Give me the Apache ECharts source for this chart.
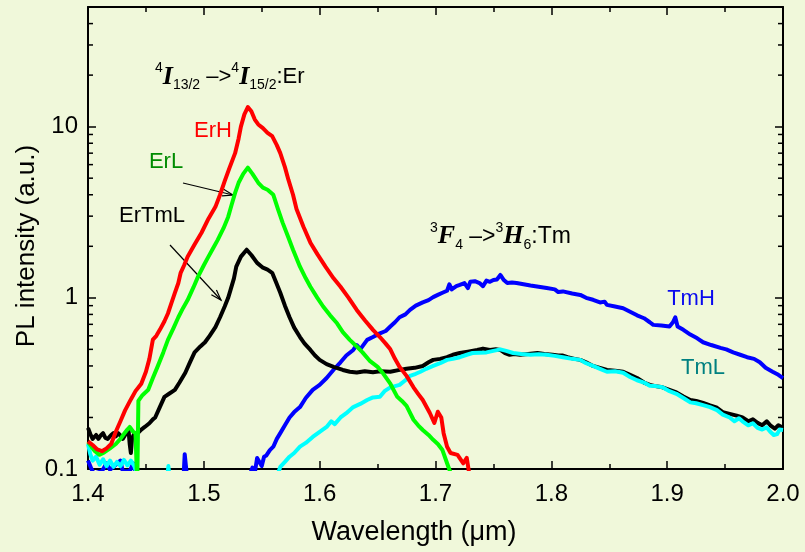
<!DOCTYPE html>
<html>
<head>
<meta charset="utf-8">
<script src="https://cdn.jsdelivr.net/npm/echarts@6/dist/echarts.min.js"></script>
<style>
  html, body { margin: 0; padding: 0; background: #F0F8DA; }
  #chart { width: 805px; height: 552px; }
</style>
</head>
<body>
<div id="chart"></div>
<script>
// PL spectra: [wavelength (µm), intensity (a.u.)]; null breaks the trace
const erH = [
  [1.400,0.145],[1.404,0.138],[1.408,0.13],[1.412,0.127],[1.416,0.132],[1.420,0.14],[1.424,0.165],
  [1.428,0.19],[1.432,0.22],[1.437,0.255],[1.441,0.285],[1.446,0.315],[1.450,0.37],[1.453,0.44],
  [1.456,0.57],[1.459,0.6],[1.462,0.65],[1.466,0.73],[1.469,0.81],[1.472,0.93],[1.475,1.07],
  [1.478,1.22],[1.480,1.40],[1.483,1.55],[1.486,1.74],[1.492,2.05],[1.498,2.4],[1.504,2.9],
  [1.510,3.4],[1.514,4.0],[1.518,4.8],[1.522,5.7],[1.527,7.0],[1.530,8.5],[1.532,10.0],
  [1.535,11.8],[1.538,13.0],[1.541,12.3],[1.544,11.0],[1.547,10.3],[1.551,9.8],[1.555,9.2],
  [1.559,8.8],[1.563,7.8],[1.566,7.0],[1.570,5.8],[1.573,4.9],[1.577,4.0],[1.580,3.3],
  [1.586,2.6],[1.592,2.1],[1.598,1.8],[1.605,1.52],[1.612,1.3],[1.618,1.16],[1.625,1.0],
  [1.632,0.85],[1.639,0.74],[1.646,0.65],[1.652,0.59],[1.657,0.54],[1.661,0.50],[1.665,0.44],
  [1.669,0.395],[1.675,0.35],[1.681,0.30],[1.685,0.275],[1.689,0.253],[1.695,0.213],[1.699,0.186],
  [1.702,0.216],[1.705,0.2],[1.707,0.162],[1.710,0.135],[1.713,0.124],[1.719,0.121],[1.724,0.108],
  [1.727,0.116],[1.729,0.095]
];

const erL = [
  [1.400,0.144],[1.403,0.135],[1.406,0.127],[1.410,0.121],[1.414,0.125],[1.419,0.132],[1.424,0.14],
  [1.428,0.15],[1.431,0.16],[1.434,0.17],[1.436,0.176],[1.439,0.165],[1.441,0.162],[1.4425,0.08],
  [1.4435,0.25],[1.447,0.27],[1.452,0.29],[1.456,0.34],[1.460,0.395],[1.465,0.48],[1.469,0.568],
  [1.474,0.67],[1.478,0.77],[1.482,0.87],[1.486,0.97],[1.491,1.15],[1.495,1.33],[1.500,1.55],
  [1.504,1.74],[1.508,1.95],[1.512,2.18],[1.517,2.55],[1.521,2.97],[1.524,3.5],[1.527,4.1],
  [1.530,4.7],[1.534,5.3],[1.538,5.76],[1.542,5.3],[1.547,4.7],[1.551,4.4],[1.555,4.28],
  [1.560,4.0],[1.564,3.3],[1.568,2.75],[1.573,2.25],[1.577,1.91],[1.583,1.52],[1.588,1.3],
  [1.592,1.16],[1.598,1.0],[1.603,0.89],[1.609,0.79],[1.615,0.71],[1.620,0.63],[1.626,0.568],
  [1.632,0.52],[1.637,0.48],[1.643,0.43],[1.650,0.395],[1.655,0.36],[1.661,0.315],[1.667,0.264],
  [1.671,0.25],[1.675,0.234],[1.681,0.194],[1.685,0.18],[1.689,0.169],[1.694,0.158],[1.698,0.148],
  [1.702,0.14],[1.706,0.129],[1.710,0.108],[1.713,0.095]
];

const erTmL = [
  [1.400,0.174],[1.402,0.16],[1.404,0.15],[1.407,0.158],[1.409,0.15],[1.411,0.157],[1.413,0.162],
  [1.415,0.152],[1.417,0.15],[1.420,0.158],[1.422,0.162],[1.424,0.155],[1.426,0.162],[1.428,0.157],
  [1.430,0.15],[1.433,0.162],[1.435,0.169],[1.436,0.14],[1.437,0.124],[1.438,0.15],[1.440,0.162],
  [1.443,0.162],[1.446,0.17],[1.449,0.176],[1.453,0.185],[1.456,0.195],[1.458,0.2],[1.462,0.23],
  [1.466,0.264],[1.470,0.275],[1.475,0.29],[1.479,0.32],[1.484,0.365],[1.488,0.42],[1.492,0.48],
  [1.497,0.52],[1.501,0.55],[1.505,0.6],[1.510,0.675],[1.514,0.77],[1.518,0.89],[1.521,1.0],
  [1.523,1.11],[1.526,1.3],[1.528,1.52],[1.532,1.74],[1.537,1.91],[1.541,1.78],[1.546,1.60],
  [1.551,1.5],[1.555,1.46],[1.559,1.40],[1.562,1.25],[1.566,1.07],[1.570,0.9],[1.574,0.77],
  [1.578,0.67],[1.583,0.59],[1.587,0.54],[1.592,0.496],[1.596,0.46],[1.600,0.434],[1.606,0.41],
  [1.612,0.395],[1.620,0.379],[1.626,0.37],[1.632,0.366],[1.639,0.372],[1.646,0.368],[1.652,0.372],
  [1.661,0.37],[1.668,0.378],[1.675,0.385],[1.682,0.39],[1.689,0.40],[1.694,0.42],[1.698,0.434],
  [1.704,0.44],[1.710,0.45],[1.715,0.465],[1.721,0.476],[1.728,0.485],[1.736,0.496],[1.741,0.505],
  [1.747,0.496],[1.752,0.5],[1.756,0.496],[1.760,0.475],[1.764,0.465],[1.768,0.47],[1.773,0.465],
  [1.780,0.47],[1.788,0.476],[1.794,0.47],[1.801,0.465],[1.806,0.46],[1.810,0.46],[1.814,0.45],
  [1.820,0.44],[1.825,0.434],[1.830,0.42],[1.836,0.40],[1.842,0.39],[1.848,0.379],[1.855,0.375],
  [1.862,0.37],[1.868,0.355],[1.874,0.34],[1.880,0.32],[1.885,0.31],[1.890,0.305],[1.896,0.30],
  [1.902,0.29],[1.908,0.28],[1.914,0.265],[1.920,0.253],[1.925,0.25],[1.931,0.243],[1.937,0.235],
  [1.943,0.228],[1.948,0.215],[1.954,0.21],[1.960,0.205],[1.965,0.2],[1.970,0.19],[1.974,0.195],
  [1.978,0.186],[1.982,0.18],[1.986,0.19],[1.989,0.18],[1.993,0.172],[1.996,0.18],[2.000,0.174]
];

const tmH = [
  [1.400,0.112],[1.403,0.1],[1.405,0.094],[1.412,0.097],[1.416,0.108],[1.419,0.099],[1.424,0.106],
  [1.428,0.112],[1.430,0.097],[1.436,0.097],[1.439,0.108],[1.442,0.09],[1.443,null],
  [1.4825,0.09],[1.4835,0.122],[1.4845,0.12],[1.4855,0.09],[1.487,null],
  [1.539,0.09],[1.542,0.102],[1.544,0.095],[1.546,0.116],[1.548,0.11],[1.550,0.104],[1.552,0.118],
  [1.554,0.12],[1.557,0.129],[1.560,0.135],[1.563,0.15],[1.566,0.162],[1.570,0.18],[1.574,0.2],
  [1.578,0.215],[1.583,0.23],[1.588,0.26],[1.594,0.29],[1.600,0.31],[1.606,0.34],[1.612,0.38],
  [1.618,0.42],[1.623,0.46],[1.629,0.496],[1.632,0.53],[1.635,0.5],[1.641,0.568],[1.646,0.59],
  [1.652,0.62],[1.657,0.64],[1.661,0.68],[1.665,0.72],[1.669,0.77],[1.674,0.8],[1.678,0.85],
  [1.683,0.9],[1.689,0.94],[1.694,0.97],[1.698,1.01],[1.702,1.04],[1.706,1.07],[1.710,1.1],
  [1.712,1.2],[1.714,1.12],[1.718,1.17],[1.721,1.19],[1.725,1.22],[1.728,1.14],[1.730,1.24],
  [1.734,1.25],[1.738,1.22],[1.741,1.17],[1.744,1.26],[1.747,1.24],[1.750,1.27],[1.753,1.28],
  [1.756,1.36],[1.759,1.27],[1.762,1.22],[1.766,1.23],[1.770,1.22],[1.776,1.2],[1.782,1.18],
  [1.789,1.16],[1.796,1.14],[1.803,1.12],[1.806,1.08],[1.810,1.09],[1.818,1.06],[1.825,1.04],
  [1.830,1.0],[1.836,0.974],[1.842,0.94],[1.846,0.95],[1.848,0.91],[1.855,0.89],[1.862,0.87],
  [1.868,0.83],[1.874,0.79],[1.880,0.76],[1.885,0.72],[1.888,0.695],[1.895,0.69],[1.902,0.68],
  [1.905,0.72],[1.907,0.77],[1.909,0.68],[1.914,0.65],[1.920,0.61],[1.926,0.58],[1.931,0.55],
  [1.938,0.53],[1.946,0.51],[1.951,0.5],[1.957,0.48],[1.963,0.465],[1.969,0.45],[1.975,0.44],
  [1.980,0.42],[1.985,0.39],[1.991,0.37],[1.996,0.355],[2.000,0.34]
];

const tmL = [
  [1.400,0.14],[1.402,0.122],[1.404,0.112],[1.407,0.118],[1.410,0.106],[1.413,0.114],[1.416,0.104],
  [1.419,0.112],[1.422,0.103],[1.425,0.11],[1.428,0.104],[1.431,0.113],[1.434,0.105],[1.437,0.112],
  [1.440,0.104],[1.443,0.09],[1.445,null],
  [1.4688,0.095],[1.4694,0.104],[1.470,0.095],[1.471,null],
  [1.563,0.09],[1.566,0.103],[1.570,0.11],[1.574,0.118],[1.578,0.124],[1.583,0.135],[1.588,0.142],
  [1.594,0.154],[1.600,0.165],[1.606,0.176],[1.610,0.19],[1.613,0.183],[1.618,0.2],[1.623,0.212],
  [1.629,0.23],[1.635,0.24],[1.641,0.253],[1.646,0.262],[1.652,0.264],[1.656,0.285],[1.661,0.30],
  [1.665,0.305],[1.669,0.31],[1.674,0.33],[1.678,0.35],[1.683,0.36],[1.687,0.37],[1.692,0.385],
  [1.698,0.40],[1.704,0.415],[1.710,0.434],[1.715,0.44],[1.721,0.45],[1.727,0.465],[1.732,0.476],
  [1.738,0.478],[1.744,0.48],[1.750,0.49],[1.756,0.50],[1.761,0.49],[1.767,0.476],[1.774,0.47],
  [1.782,0.465],[1.789,0.468],[1.796,0.465],[1.803,0.458],[1.810,0.45],[1.818,0.44],[1.825,0.434],
  [1.830,0.415],[1.836,0.40],[1.842,0.385],[1.848,0.37],[1.855,0.372],[1.862,0.365],[1.868,0.345],
  [1.874,0.33],[1.880,0.32],[1.885,0.306],[1.890,0.305],[1.896,0.30],[1.902,0.285],[1.908,0.275],
  [1.914,0.26],[1.920,0.245],[1.925,0.242],[1.931,0.236],[1.937,0.23],[1.943,0.221],[1.948,0.208],
  [1.954,0.2],[1.958,0.19],[1.962,0.198],[1.965,0.19],[1.970,0.18],[1.974,0.185],[1.978,0.174],
  [1.982,0.17],[1.986,0.175],[1.989,0.165],[1.992,0.158],[1.995,0.16],[1.997,0.17],[2.000,0.169]
];

// axis ranges, titles and log-axis minor tick values
const xRange = [1.4, 2.0];
const xStep = 0.1;
const yRange = [0.1, 50];
const yMinorTicks = [0.2,0.3,0.4,0.5,0.6,0.7,0.8,0.9, 2,3,4,5,6,7,8,9, 20,30,40];
const xTitle = 'Wavelength (\u03bcm)';
const yTitle = 'PL intensity (a.u.)';

const SANS = '"Liberation Sans", Arial, sans-serif';
const SERIF = '"Liberation Serif", "Times New Roman", serif';

const chart = echarts.init(document.getElementById('chart'), null, { renderer: 'canvas' });

const axisLine = { show: true, lineStyle: { color: '#000', width: 2 } };
const tick = { show: true, inside: true, length: 8, lineStyle: { color: '#000', width: 1.5 } };

function trace(name, data, color) {
  return {
    name, type: 'line', data, xAxisIndex: 0, yAxisIndex: 0,
    showSymbol: false, symbol: 'none', connectNulls: false, clip: true,
    lineStyle: { color, width: 4, join: 'round' },
    emphasis: { disabled: true }, silent: true
  };
}

// open arrow from (x1,y1) to (x2,y2)
function arrow(x1, y1, x2, y2) {
  const a = Math.atan2(y2 - y1, x2 - x1), L = 11, w = 0.32;
  const p1 = [x2 - L * Math.cos(a - w), y2 - L * Math.sin(a - w)];
  const p2 = [x2 - L * Math.cos(a + w), y2 - L * Math.sin(a + w)];
  const st = { stroke: '#000', lineWidth: 1.2, fill: null };
  return [
    { type: 'line', shape: { x1, y1, x2, y2 }, style: st, silent: true },
    { type: 'polyline', shape: { points: [p1, [x2, y2], p2] }, style: st, silent: true }
  ];
}

function label(text, x, y, color, size, rotation) {
  return {
    type: 'text', x, y, rotation: rotation || 0, silent: true,
    style: { text, fill: color, fontSize: size || 22, fontFamily: SANS, align: 'center', verticalAlign: 'middle' }
  };
}

const richTitle = {
  s: { fontSize: 14, fontFamily: SANS, fill: '#000', verticalAlign: 'top', lineHeight: 13 },
  b: { fontSize: 14, fontFamily: SANS, fill: '#000', verticalAlign: 'bottom', lineHeight: 4 },
  I: { fontSize: 26, fontFamily: SERIF, fontWeight: 'bold', fontStyle: 'italic', fill: '#000', verticalAlign: 'middle', lineHeight: 31 },
  n: { fontSize: 22, fontFamily: SANS, fill: '#000', verticalAlign: 'middle', lineHeight: 31 }
};
const richTitle2 = {
  s: { fontSize: 14, fontFamily: SANS, fill: '#000', verticalAlign: 'top', lineHeight: 16 },
  b: { fontSize: 14, fontFamily: SANS, fill: '#000', verticalAlign: 'bottom', lineHeight: 2 },
  I: { fontSize: 26, fontFamily: SERIF, fontWeight: 'bold', fontStyle: 'italic', fill: '#000', verticalAlign: 'middle', lineHeight: 31 },
  n: { fontSize: 23, fontFamily: SANS, fill: '#000', verticalAlign: 'middle', lineHeight: 31 }
};

const option = {
  backgroundColor: '#F0F8DA',
  animation: false,
  grid: { left: 88, right: 22, top: 7, bottom: 83, containLabel: false },
  xAxis: [
    {
      type: 'value', position: 'bottom', min: xRange[0], max: xRange[1], interval: xStep,
      axisLine, axisTick: tick,
      minorTick: { show: true, splitNumber: 2, length: 5, lineStyle: { color: '#000', width: 1.5 } },
      splitLine: { show: false }, minorSplitLine: { show: false },
      axisLabel: { color: '#000', fontSize: 24, fontFamily: SANS, margin: 13, formatter: v => v.toFixed(1) }
    },
    {
      type: 'value', position: 'top', min: xRange[0], max: xRange[1], interval: xStep,
      axisLine, axisTick: tick,
      minorTick: { show: true, splitNumber: 2, length: 5, lineStyle: { color: '#000', width: 1.5 } },
      splitLine: { show: false }, axisLabel: { show: false }
    }
  ],
  yAxis: [
    {
      type: 'log', logBase: 10, position: 'left', min: yRange[0], max: yRange[1],
      axisLine, axisTick: tick, splitLine: { show: false }, minorTick: { show: false },
      axisLabel: {
        color: '#000', fontSize: 24, fontFamily: SANS, margin: 10, showMaxLabel: false,
        formatter: v => String(+Number(v).toPrecision(3))
      }
    },
    {
      type: 'log', logBase: 10, position: 'right', min: yRange[0], max: yRange[1],
      axisLine, axisTick: tick, splitLine: { show: false }, minorTick: { show: false },
      axisLabel: { show: false }
    }
  ],
  series: [
    // minor ticks of the log axes (2..9 per decade), drawn on both sides
    {
      type: 'custom', xAxisIndex: 0, yAxisIndex: 0, silent: true, clip: false, z: 10,
      data: yMinorTicks.map(v => [xRange[0], v]),
      renderItem(params, api) {
        const v = api.value(1);
        const l = api.coord([xRange[0], v]);
        const r = api.coord([xRange[1], v]);
        const st = { stroke: '#000', lineWidth: 1.5 };
        return {
          type: 'group', children: [
            { type: 'line', shape: { x1: l[0], y1: l[1], x2: l[0] + 5, y2: l[1] }, style: st },
            { type: 'line', shape: { x1: r[0] - 5, y1: r[1], x2: r[0], y2: r[1] }, style: st }
          ]
        };
      }
    },
    trace('TmH', tmH, '#0000FF'),
    trace('ErTmL', erTmL, '#000000'),
    trace('TmL', tmL, '#00FFFF'),
    trace('ErL', erL, '#00FF00'),
    trace('ErH', erH, '#FF0000')
  ],
  graphic: [
    label(xTitle, 414, 533, '#000', 27),
    label(yTitle, 27, 246, '#000', 26, Math.PI / 2),
    {
      type: 'text', x: 155, y: 61.5, silent: true,
      style: {
        text: '{s|4}{I|I}{b|13/2}{n| \u2013>}{s|4}{I|I}{b|15/2}{n|:Er}',
        rich: richTitle, align: 'left', verticalAlign: 'top'
      }
    },
    {
      type: 'text', x: 430, y: 221, silent: true,
      style: {
        text: '{s|3}{I|F}{b|4}{n| \u2013>}{s|3}{I|H}{b|6}{n|:Tm}',
        rich: richTitle2, align: 'left', verticalAlign: 'top'
      }
    },
    label('ErH', 213, 131, '#FF0000'),
    label('ErL', 166, 162, '#008C00'),
    label('ErTmL', 152, 216, '#000000'),
    label('TmH', 691, 299, '#0A0AEE'),
    label('TmL', 703, 368, '#008080'),
    ...arrow(183, 183, 233, 195),
    ...arrow(170, 245, 221, 300)
  ]
};

chart.setOption(option);
</script>
</body>
</html>
